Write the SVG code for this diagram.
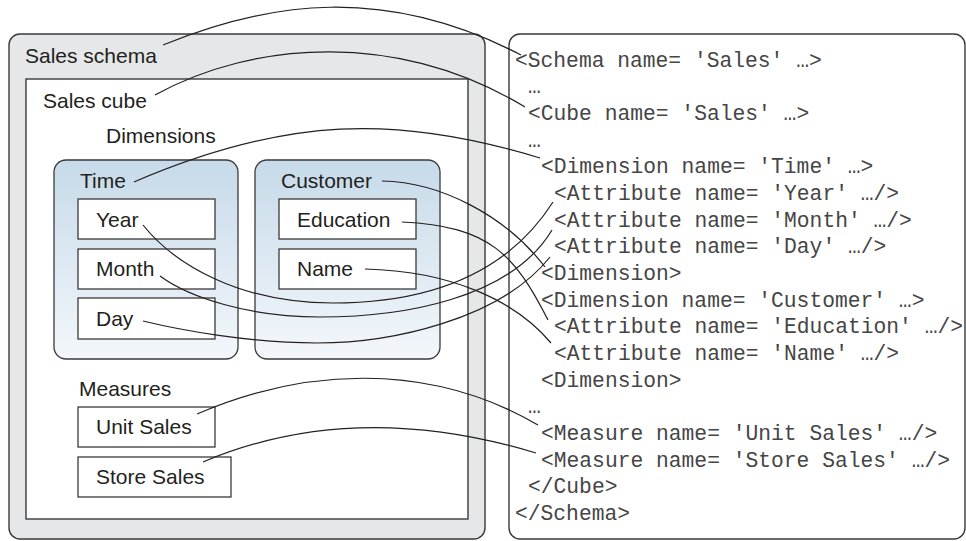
<svg xmlns="http://www.w3.org/2000/svg" width="966" height="541" viewBox="0 0 966 541">
  <defs>
    <linearGradient id="panelFill" x1="0" y1="0" x2="0" y2="1">
      <stop offset="0" stop-color="#c6dae9"/>
      <stop offset="1" stop-color="#f3f7fb"/>
    </linearGradient>
    <style>
      .schema { fill: #e6e7e8; stroke: #3a3a3a; stroke-width: 1.4; }
      .cube { fill: #ffffff; stroke: #3a3a3a; stroke-width: 1.4; }
      .panel { fill: url(#panelFill); stroke: #3a3a3a; stroke-width: 1.3; }
      .item { fill: #ffffff; stroke: #3a3a3a; stroke-width: 1.3; }
      .xmlbox { fill: #ffffff; stroke: #3a3a3a; stroke-width: 1.4; }
      .label { font-family: "Liberation Sans", Arial, sans-serif; font-size: 21px; fill: #231f20; }
      .code { font-family: "Liberation Mono", "Courier New", monospace; font-size: 21.3px; fill: #454545; }
      .link { fill: none; stroke: #231f20; stroke-width: 1.2; }
    </style>
  </defs>

  <!-- Schema container -->
  <g id="sales-schema">
    <rect class="schema" x="9" y="34" width="476" height="505" rx="11"/>
    <text class="label" x="25" y="63">Sales schema</text>
  </g>

  <!-- Cube container -->
  <g id="sales-cube">
    <rect class="cube" x="26" y="79" width="442" height="440"/>
    <text class="label" x="43" y="108">Sales cube</text>
    <text class="label" x="106" y="143">Dimensions</text>
    <text class="label" x="79" y="396">Measures</text>
  </g>

  <!-- Time dimension -->
  <g id="dim-time">
    <rect class="panel" x="54" y="160" width="184" height="199" rx="12"/>
    <text class="label" x="80" y="188">Time</text>
  </g>
  <g id="attr-year">
    <rect class="item" x="78" y="199" width="137" height="40"/>
    <text class="label" x="96" y="227">Year</text>
  </g>
  <g id="attr-month">
    <rect class="item" x="78" y="249" width="137" height="40"/>
    <text class="label" x="96" y="276">Month</text>
  </g>
  <g id="attr-day">
    <rect class="item" x="78" y="298" width="137" height="41"/>
    <text class="label" x="96" y="326">Day</text>
  </g>

  <!-- Customer dimension -->
  <g id="dim-customer">
    <rect class="panel" x="255" y="160" width="185" height="199" rx="12"/>
    <text class="label" x="281" y="188">Customer</text>
  </g>
  <g id="attr-education">
    <rect class="item" x="279" y="199" width="137" height="40"/>
    <text class="label" x="297" y="227">Education</text>
  </g>
  <g id="attr-name">
    <rect class="item" x="279" y="249" width="137" height="40"/>
    <text class="label" x="297" y="276">Name</text>
  </g>

  <!-- Measures -->
  <g id="measure-unit-sales">
    <rect class="item" x="78" y="407" width="137" height="40"/>
    <text class="label" x="96" y="434">Unit Sales</text>
  </g>
  <g id="measure-store-sales">
    <rect class="item" x="78" y="457" width="153" height="40"/>
    <text class="label" x="96" y="484">Store Sales</text>
  </g>

  <!-- XML definition -->
  <g id="xml-definition">
    <rect class="xmlbox" x="509" y="34" width="456" height="505" rx="11"/>
    <text class="code" x="515" y="67">&lt;Schema name= 'Sales' …&gt;</text>
    <text class="code" x="528" y="93">…</text>
    <text class="code" x="528" y="120">&lt;Cube name= 'Sales' …&gt;</text>
    <text class="code" x="528" y="147">…</text>
    <text class="code" x="541" y="173">&lt;Dimension name= 'Time' …&gt;</text>
    <text class="code" x="554" y="200">&lt;Attribute name= 'Year' …/&gt;</text>
    <text class="code" x="554" y="227">&lt;Attribute name= 'Month' …/&gt;</text>
    <text class="code" x="554" y="253">&lt;Attribute name= 'Day' …/&gt;</text>
    <text class="code" x="541" y="280">&lt;Dimension&gt;</text>
    <text class="code" x="541" y="307">&lt;Dimension name= 'Customer' …&gt;</text>
    <text class="code" x="554" y="333">&lt;Attribute name= 'Education' …/&gt;</text>
    <text class="code" x="554" y="360">&lt;Attribute name= 'Name' …/&gt;</text>
    <text class="code" x="541" y="387">&lt;Dimension&gt;</text>
    <text class="code" x="528" y="413">…</text>
    <text class="code" x="541" y="440">&lt;Measure name= 'Unit Sales' …/&gt;</text>
    <text class="code" x="541" y="467">&lt;Measure name= 'Store Sales' …/&gt;</text>
    <text class="code" x="528" y="493">&lt;/Cube&gt;</text>
    <text class="code" x="515" y="520">&lt;/Schema&gt;</text>
  </g>

  <!-- Connectors from model elements to their XML lines -->
  <g id="connectors">
    <path class="link" d="M163,45 C268,2 384,-16 521,55"/>
    <path class="link" d="M155,95 C255,40 399,31 525,107"/>
    <path class="link" d="M134,182 C285,117 397,114 540,158"/>
    <path class="link" d="M382,181 C440,182 505,215 545,267"/>
    <path class="link" d="M402,222 C490,226 515,255 548,320"/>
    <path class="link" d="M365,269 C450,271 515,300 551,343"/>
    <path class="link" d="M143,225 C175,265 240,303 333,303 C410,303 500,285 553,202"/>
    <path class="link" d="M160,276 C190,298 250,317 320,317 C400,317 510,300 552,230"/>
    <path class="link" d="M143,321 C180,330 250,343 317,343 C390,343 500,320 550,257"/>
    <path class="link" d="M197,414 C301,369 427,360 538,425"/>
    <path class="link" d="M203,462 C307,418 420,418 536,453"/>
  </g>
</svg>
